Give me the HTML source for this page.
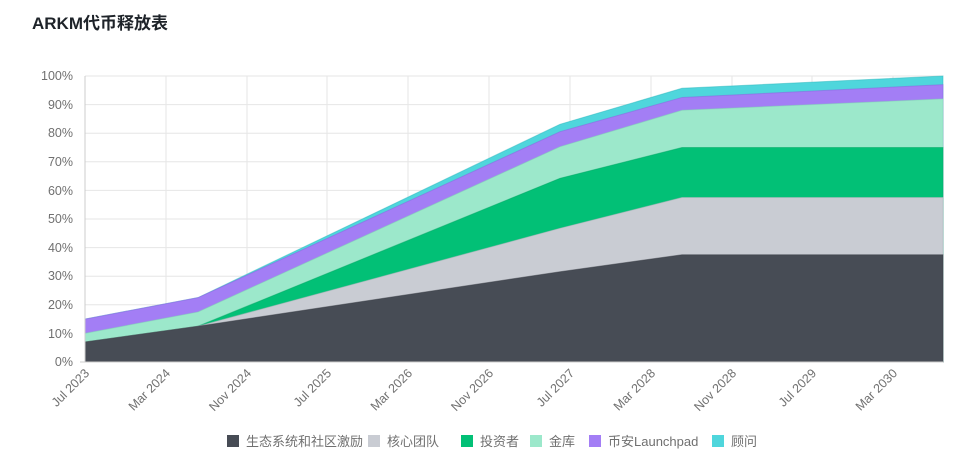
<!DOCTYPE html>
<html><head><meta charset="utf-8"><style>
body{margin:0;background:#fff;}
svg{display:block;font-family:"Liberation Sans","Noto Sans CJK SC",sans-serif;}
</style></head><body>
<svg width="972" height="464" viewBox="0 0 972 464">
<text x="32" y="29" font-size="17" font-weight="bold" fill="#1e2329">ARKM代币释放表</text>
<g stroke="#e6e6e6" stroke-width="1">
<line x1="85" y1="76" x2="943" y2="76"/><line x1="85" y1="104.6" x2="943" y2="104.6"/>
<line x1="85" y1="133.2" x2="943" y2="133.2"/><line x1="85" y1="161.8" x2="943" y2="161.8"/>
<line x1="85" y1="190.4" x2="943" y2="190.4"/><line x1="85" y1="219" x2="943" y2="219"/>
<line x1="85" y1="247.6" x2="943" y2="247.6"/><line x1="85" y1="276.2" x2="943" y2="276.2"/>
<line x1="85" y1="304.8" x2="943" y2="304.8"/><line x1="85" y1="333.4" x2="943" y2="333.4"/>
<line x1="166" y1="76" x2="166" y2="362"/><line x1="247" y1="76" x2="247" y2="362"/>
<line x1="327" y1="76" x2="327" y2="362"/><line x1="408" y1="76" x2="408" y2="362"/>
<line x1="489" y1="76" x2="489" y2="362"/><line x1="570" y1="76" x2="570" y2="362"/>
<line x1="651" y1="76" x2="651" y2="362"/><line x1="732" y1="76" x2="732" y2="362"/>
<line x1="812" y1="76" x2="812" y2="362"/><line x1="893" y1="76" x2="893" y2="362"/>
</g>
<g stroke-width="1" stroke-opacity="0.5">
<polygon fill="#4fd6dc" stroke="#2bb8be" points="85,319.1 198,297.65 560,124.3 682,88.3 943,76 943,362 85,362"/>
<polygon fill="#a37ef5" stroke="#8a63e0" points="85,319.1 198,297.65 560,131.7 682,97.45 943,84.6 943,362 85,362"/>
<polygon fill="#9ce8cb" stroke="#7fd4b4" points="85,333.4 198,311.95 560,146.7 682,110.3 943,98.9 943,362 85,362"/>
<polygon fill="#02c076" stroke="#01a564" points="85,341.98 198,326.25 560,178.3 682,147.5 943,147.5 943,362 85,362"/>
<polygon fill="#c9ccd3" stroke="#b0b4bc" points="85,341.98 198,326.25 560,228.3 682,197.55 943,197.55 943,362 85,362"/>
<polygon fill="#474c55" stroke="#3a3e46" points="85,341.98 198,326.25 560,271.7 682,254.75 943,254.75 943,362 85,362"/>
</g>
<line x1="85" y1="76" x2="85" y2="362" stroke="#ccc"/>
<line x1="80" y1="362" x2="943" y2="362" stroke="#ccc"/>
<g font-size="12.5" fill="#707070" text-anchor="end">
<text x="73" y="80">100%</text><text x="73" y="109">90%</text><text x="73" y="137">80%</text>
<text x="73" y="166">70%</text><text x="73" y="195">60%</text><text x="73" y="223">50%</text>
<text x="73" y="252">40%</text><text x="73" y="280">30%</text><text x="73" y="309">20%</text>
<text x="73" y="338">10%</text><text x="73" y="366">0%</text>
</g>
<g font-size="12.5" fill="#707070" text-anchor="end">
<text transform="translate(90,374) rotate(-45)">Jul 2023</text>
<text transform="translate(171,374) rotate(-45)">Mar 2024</text>
<text transform="translate(252,374) rotate(-45)">Nov 2024</text>
<text transform="translate(332,374) rotate(-45)">Jul 2025</text>
<text transform="translate(413,374) rotate(-45)">Mar 2026</text>
<text transform="translate(494,374) rotate(-45)">Nov 2026</text>
<text transform="translate(575,374) rotate(-45)">Jul 2027</text>
<text transform="translate(656,374) rotate(-45)">Mar 2028</text>
<text transform="translate(737,374) rotate(-45)">Nov 2028</text>
<text transform="translate(817,374) rotate(-45)">Jul 2029</text>
<text transform="translate(898,374) rotate(-45)">Mar 2030</text>
</g>
<g font-size="13" fill="#707070">
<rect x="227" y="435" width="12" height="12" fill="#474c55"/><text x="246" y="446">生态系统和社区激励</text>
<rect x="368" y="435" width="12" height="12" fill="#c9ccd3"/><text x="387" y="446">核心团队</text>
<rect x="461" y="435" width="12" height="12" fill="#02c076"/><text x="480" y="446">投资者</text>
<rect x="530" y="435" width="12" height="12" fill="#9ce8cb"/><text x="549" y="446">金库</text>
<rect x="589" y="435" width="12" height="12" fill="#a37ef5"/><text x="608" y="446">币安Launchpad</text>
<rect x="712" y="435" width="12" height="12" fill="#4fd6dc"/><text x="731" y="446">顾问</text>
</g>
</svg>
</body></html>
